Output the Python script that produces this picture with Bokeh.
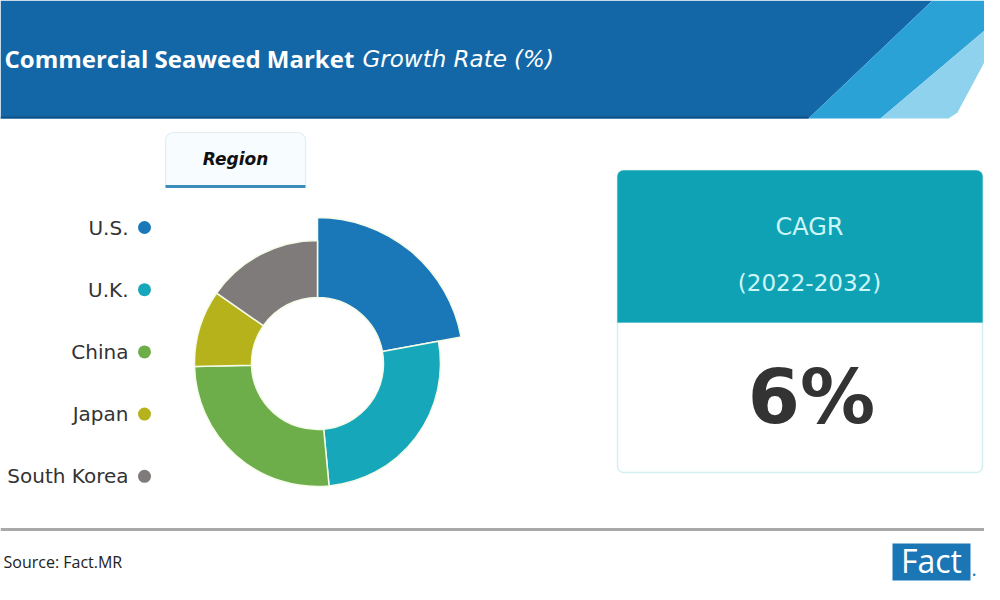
import math
from bokeh.plotting import figure
from bokeh.models import Range1d, BoxAnnotation, ColumnDataSource
from bokeh.core.properties import value
from bokeh.embed import file_html
from bokeh.resources import INLINE

# ---------------- data ----------------
regions = ["U.S.", "U.K.", "China", "Japan", "South Korea"]
shares = [22.1, 26.4, 26.1, 10.1, 15.3]
colors = ["#1a78b8", "#17a7ba", "#6dae4a", "#b5b21c", "#807b7b"]
title_bold = "Commercial Seaweed Market"
title_italic = "Growth Rate (%)"
legend_title = "Region"
cagr_label = "CAGR"
cagr_period = "(2022-2032)"
cagr_value = "6%"
source_text = "Source: Fact.MR"
logo_text = "Fact"
logo_dot = "."

# ---------------- style / layout ----------------
outer_radius = [146, 123, 123, 123, 123]
inner_r = 66
cx, cy_ref = 317, 363


def Y(v):
    # reference pixel row -> data y (bottom-up)
    return 600 - v


p = figure(width=984, height=584, x_range=Range1d(0, 984), y_range=Range1d(16, 600),
           output_backend="svg", toolbar_location=None, min_border=0,
           x_axis_location=None, y_axis_location=None, outline_line_color=None,
           background_fill_color="white", border_fill_color="white")
p.grid.visible = False

# ---------------- header band ----------------
p.patch([0, 932, 808, 0], [Y(0), Y(0), Y(118), Y(118)], fill_color="#1467a6", line_color=None)
p.patch([932, 1002, 1002, 880, 808], [Y(0), Y(0), Y(15), Y(118), Y(118)], fill_color="#2ba2d6", line_color=None)
p.patch([1002, 1002, 957, 948, 880], [Y(15), Y(28), Y(112), Y(118), Y(118)], fill_color="#8fd2ee", line_color=None)
p.line([0, 808], [Y(117), Y(117)], line_color="#0f5288", line_width=2)

p.text(x=[4], y=[Y(58)], text=[title_bold], text_font=value("Open Sans"), text_font_style="bold",
       text_font_size="24px", text_color="white", text_align="left", text_baseline="middle")
p.text(x=[362], y=[Y(58)], text=[title_italic], text_font=value("DejaVu Sans"), text_font_style="italic",
       text_font_size="23px", text_color="white", text_align="left", text_baseline="middle")

# ---------------- region label box ----------------
p.add_layout(BoxAnnotation(left=165, right=305, top=Y(132), bottom=Y(186), fill_color="#f7fdff",
                           fill_alpha=1, line_color="#a9c4d2", line_width=1.2, border_radius=(8, 8, 0, 0),
                           level="underlay"))
p.line([165, 305], [Y(186), Y(186)], line_color="#3a8fba", line_width=3)
p.text(x=[235], y=[Y(158)], text=[legend_title], text_font=value("DejaVu Sans"),
       text_font_style="bold italic", text_font_size="17px", text_color="#111111",
       text_align="center", text_baseline="middle")

# ---------------- donut ----------------
total = sum(shares)
starts, ends = [], []
cum = 0.0
for s in shares:
    starts.append(math.pi / 2 - 2 * math.pi * cum / total)
    cum += s
    ends.append(math.pi / 2 - 2 * math.pi * cum / total)

src = ColumnDataSource(dict(x=[cx] * len(shares), y=[Y(cy_ref)] * len(shares), start=starts, end=ends,
                            outer=outer_radius, color=colors, region=regions, share=shares))
p.annular_wedge(x="x", y="y", inner_radius=inner_r, outer_radius="outer", start_angle="start",
                end_angle="end", direction="clock", fill_color="color", line_color="#f4fbe8",
                line_width=1.5, source=src)

# ---------------- legend ----------------
leg_y = [Y(227 + i * 62.2) for i in range(len(regions))]
p.scatter(x=[144] * len(regions), y=leg_y, size=13, marker="circle", fill_color=colors, line_color=None)
p.text(x=[128] * len(regions), y=leg_y, text=regions, text_font=value("DejaVu Sans"),
       text_font_size="20px", text_color="#333333", text_align="right", text_baseline="middle")

# ---------------- CAGR box ----------------
p.add_layout(BoxAnnotation(left=617, right=982, top=Y(170), bottom=Y(472), fill_color="white",
                           fill_alpha=1, line_color="#6fc9d3", line_width=1.5, border_radius=6,
                           level="underlay"))
p.add_layout(BoxAnnotation(left=617, right=982, top=Y(170), bottom=Y(322), fill_color="#0fa2b4",
                           fill_alpha=1, line_color="#0fa2b4", line_width=1, border_radius=(6, 6, 0, 0),
                           level="underlay"))
p.text(x=[809], y=[Y(226)], text=[cagr_label], text_font=value("DejaVu Sans"), text_font_size="24px",
       text_color="#cdf6f8", text_align="center", text_baseline="middle")
p.text(x=[809], y=[Y(282)], text=[cagr_period], text_font=value("DejaVu Sans"), text_font_size="23px",
       text_color="#cdf6f8", text_align="center", text_baseline="middle")
p.text(x=[811], y=[Y(396)], text=[cagr_value], text_font=value("DejaVu Sans"), text_font_style="bold",
       text_font_size="75px", text_color="#333333", text_align="center", text_baseline="middle")

# ---------------- footer ----------------
p.line([0, 1000], [Y(529), Y(529)], line_color="#a9a9a9", line_width=3)
p.text(x=[3], y=[Y(561)], text=[source_text], text_font=value("Open Sans"), text_font_size="16px",
       text_color="#222222", text_align="left", text_baseline="middle")
p.add_layout(BoxAnnotation(left=892, right=970, top=Y(543), bottom=Y(580), fill_color="#1a76b5",
                           fill_alpha=1, line_color=None, level="underlay"))
p.text(x=[931], y=[Y(560)], text=[logo_text], text_font=value("Open Sans"), text_font_size="32px",
       text_color="white", text_align="center", text_baseline="middle")
p.text(x=[971], y=[Y(568)], text=[logo_dot], text_font=value("Open Sans"), text_font_size="20px",
       text_color="#1a76b5", text_align="left", text_baseline="middle")

open("out.html", "w").write(file_html(p, INLINE))
